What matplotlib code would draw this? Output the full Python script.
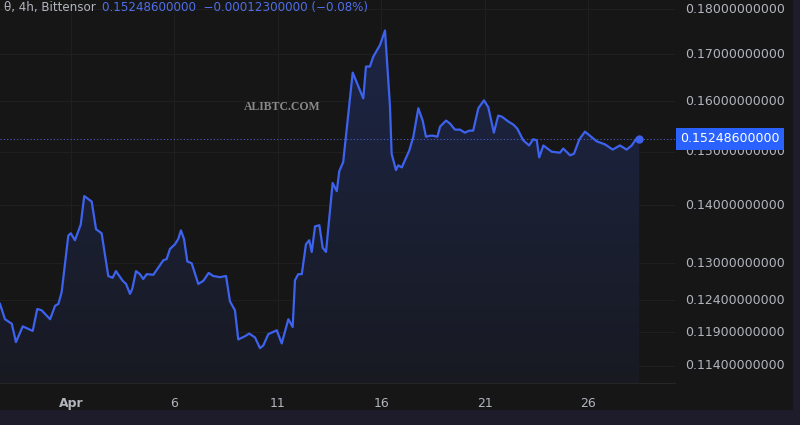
import numpy as np
import matplotlib
matplotlib.use('Agg')
from matplotlib import pyplot as plt
from matplotlib.patches import Rectangle

# days from Apr 1 00:00, 4h candles (close)
days = [-3.43, -3.19, -2.86, -2.66, -2.33, -1.85, -1.63, -1.42, -1.01, -0.77,
        -0.61, -0.45, -0.13, -0.01, 0.19, 0.47, 0.64, 1.00, 1.21, 1.48,
        1.80, 2.01, 2.17, 2.50, 2.66, 2.85, 2.96, 3.14, 3.33, 3.49,
        3.66, 3.98, 4.14, 4.46, 4.62, 4.78, 5.02, 5.18, 5.31, 5.46,
        5.62, 5.83, 6.15, 6.39, 6.65, 6.87, 7.20, 7.49, 7.68, 7.92,
        8.08, 8.41, 8.61, 8.89, 9.13, 9.29, 9.53, 9.94, 10.18, 10.50,
        10.71, 10.82, 10.98, 11.15, 11.35, 11.51, 11.63, 11.79, 12.00, 12.16,
        12.32, 12.64, 12.84, 12.96, 13.15, 13.61, 14.12, 14.25, 14.44, 14.60,
        14.93, 15.17, 15.41, 15.49, 15.70, 15.81, 15.98, 16.34, 16.54, 16.78,
        16.99, 17.15, 17.34, 17.50, 17.70, 17.83, 18.12, 18.31, 18.55, 18.79,
        19.03, 19.24, 19.43, 19.68, 19.95, 20.16, 20.43, 20.64, 20.81, 21.13,
        21.37, 21.56, 21.85, 22.13, 22.33, 22.50, 22.62, 22.82, 23.22, 23.62,
        23.78, 24.11, 24.30, 24.56, 24.83, 25.07, 25.40, 25.80, 26.17, 26.52,
        26.84, 27.09, 27.29, 27.45]
price = [0.1234, 0.1210, 0.1203, 0.1175, 0.1199, 0.1192, 0.1226, 0.1224, 0.1210, 0.1231,
         0.1234, 0.1253, 0.1347, 0.1351, 0.1339, 0.1366, 0.1417, 0.1407, 0.1358, 0.1351,
         0.1279, 0.1276, 0.1287, 0.1271, 0.1266, 0.1250, 0.1258, 0.1287, 0.1282, 0.1274,
         0.1282, 0.1281, 0.1289, 0.1305, 0.1307, 0.1324, 0.1332, 0.1341, 0.1356, 0.1341,
         0.1303, 0.1300, 0.1266, 0.1271, 0.1284, 0.1279, 0.1277, 0.1279, 0.1238, 0.1224,
         0.1179, 0.1184, 0.1188, 0.1182, 0.1166, 0.1170, 0.1187, 0.1193, 0.1173, 0.1210,
         0.1198, 0.1272, 0.1282, 0.1282, 0.1332, 0.1339, 0.1319, 0.1363, 0.1365, 0.1326,
         0.1319, 0.1441, 0.1426, 0.1463, 0.1480, 0.1660, 0.1606, 0.1673, 0.1673, 0.1694,
         0.1720, 0.1752, 0.1590, 0.1496, 0.1465, 0.1474, 0.1470, 0.1502, 0.1529, 0.1586,
         0.1561, 0.1529, 0.1531, 0.1531, 0.1529, 0.1549, 0.1561, 0.1555, 0.1543, 0.1543,
         0.1537, 0.1541, 0.1541, 0.1586, 0.1602, 0.1588, 0.1537, 0.1571, 0.1569, 0.1559,
         0.1553, 0.1545, 0.1522, 0.1512, 0.1524, 0.1522, 0.1489, 0.1512, 0.1500, 0.1498,
         0.1506, 0.1493, 0.1496, 0.1524, 0.1539, 0.1531, 0.1520, 0.1514, 0.1504, 0.1512,
         0.1504, 0.1512, 0.1524, 0.152486]

x_ticks = [0, 5, 10, 15, 20, 25]
x_labels = ['Apr', '6', '11', '16', '21', '26']
y_ticks = [0.114, 0.119, 0.124, 0.13, 0.14, 0.15, 0.16, 0.17, 0.18]

last_price = 0.152486
change = -0.000123
change_pct = -0.08

BG = '#161616'
OUTER = '#1e1c2b'
LINE = '#3d62ee'
TXT = '#b2b5be'

fig = plt.figure(figsize=(8, 4.25), dpi=100)
fig.patch.set_facecolor(OUTER)
# chart canvas (everything except the purple strip at bottom/right)
fig.patches.append(Rectangle((0, 15 / 425), 793 / 800, 410 / 425, transform=fig.transFigure,
                             facecolor=BG, edgecolor='none', zorder=-10))

ax = fig.add_axes([0, 42 / 425, 675 / 800, 383 / 425])
ax.set_facecolor(BG)
ax.set_yscale('log')
ax.set_xlim(-3.43, 29.18)
ax.set_ylim(0.1115, 0.1822)

for s in ax.spines.values():
    s.set_visible(False)
ax.spines['bottom'].set_visible(True)
ax.spines['bottom'].set_color('#262626')

ax.set_yticks(y_ticks)
ax.yaxis.set_minor_locator(matplotlib.ticker.NullLocator())
ax.set_yticklabels([])
ax.set_xticks(x_ticks)
ax.set_xticklabels(x_labels)
ax.tick_params(axis='both', length=0)
ax.tick_params(axis='x', colors=TXT, labelsize=9, pad=10)
for lbl in ax.get_xticklabels():
    if lbl.get_text() == 'Apr':
        lbl.set_fontweight('bold')
ax.grid(True, color='#1f1f1f', linewidth=0.8)
ax.set_axisbelow(True)

# y tick labels on the right price scale
for v in y_ticks:
    ax.text(1.015, v, f'{v:.11f}', transform=ax.get_yaxis_transform(),
            color=TXT, fontsize=9, va='center', ha='left', clip_on=False)

# gradient area under the line
poly = ax.fill_between(days, price, 0.1115, color='none', lw=0)
grad = np.linspace(0, 1, 256).reshape(-1, 1)
cmap = matplotlib.colors.LinearSegmentedColormap.from_list('g', ['#181a22', '#1d2648'])
img = ax.imshow(grad, extent=(0, 1, 0, 1), transform=ax.transAxes, origin='lower',
                aspect='auto', cmap=cmap, zorder=1)
img.set_clip_path(poly.get_paths()[0], transform=ax.transData)

ax.plot(days, price, color=LINE, lw=1.6, zorder=3, solid_joinstyle='round')
ax.plot(days[-1], price[-1], 'o', color=LINE, ms=5, zorder=4)

# last price dotted line and label
ax.axhline(last_price, color='#4a5fc0', lw=0.8, ls=(0, (1, 2)), zorder=2)
ax.text(1.0 + 5 / 675, last_price, f'{last_price:.11f}', transform=ax.get_yaxis_transform(),
        color='white', fontsize=9, va='center', ha='left', clip_on=False, zorder=6,
        bbox=dict(boxstyle='square,pad=0.35', facecolor='#2962ff', edgecolor='none'))

# watermark
ax.text(244 / 675, 1 - 107 / 383, 'ALIBTC.COM', transform=ax.transAxes, color='#8a8a8a',
        fontsize=8.5, fontweight='bold', family='Liberation Serif', va='center', ha='left')

# header
fig.text(4 / 800, 1 - 8 / 425, 'θ, 4h, Bittensor', color=TXT, fontsize=8.6, va='center', ha='left')
fig.text(102 / 800, 1 - 8 / 425,
         f'{last_price:.11f}  \u2212{abs(change):.11f} (\u2212{abs(change_pct):.2f}%)',
         color='#4f6ee8', fontsize=8.6, va='center', ha='left')

fig.savefig('out.png', dpi=100, facecolor=fig.get_facecolor())
